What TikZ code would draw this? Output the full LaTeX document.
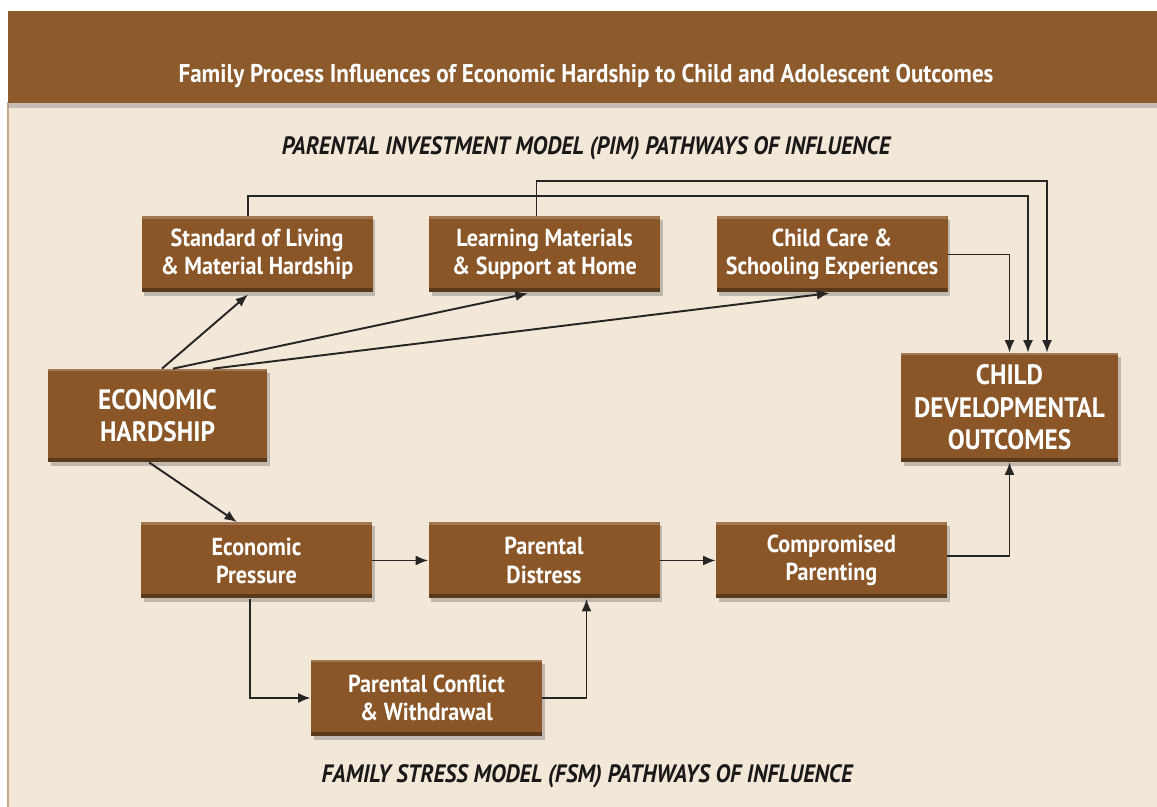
\documentclass[tikz,border=0pt]{standalone}
\usepackage{fontspec}
\setmainfont{PT Sans}
\newfontfamily\boxfont[FakeStretch=0.9]{PT Sans}
\usetikzlibrary{arrows.meta,positioning,shadows}
\definecolor{barbrown}{HTML}{8D5A2C}
\definecolor{boxbrown}{HTML}{8A5628}
\definecolor{paper}{HTML}{F3E7D7}
\definecolor{rim}{HTML}{C9A789}
\tikzset{>={Latex[width=2mm,length=2.5mm]}}
\tikzset{box/.style={shape=rectangle, fill=boxbrown, text=white, align=center,
    minimum width=4.62cm, minimum height=1.52cm, inner sep=1mm,
    font=\boxfont\bfseries\fontsize{14}{16}\selectfont,
    drop shadow={shadow xshift=1.5pt, shadow yshift=-2pt, opacity=0.45},
    path picture={\fill[boxbrown!65!black] (path picture bounding box.south west)
        rectangle ([yshift=2.5pt]path picture bounding box.south east);
      \fill[boxbrown!80!white] (path picture bounding box.north west)
        rectangle ([yshift=-1.2pt]path picture bounding box.north east);}}}
\tikzset{bigbox/.style={box, font=\boxfont\bfseries\fontsize{16}{18.5}\selectfont}}
\tikzset{link/.style={->, draw=black!85, line width=1.1pt}}
\tikzset{heading/.style={font=\boxfont\bfseries\itshape\fontsize{14.3}{16}\selectfont,
    text=black!90}}

\begin{document}
\begin{tikzpicture}[node distance=5.75cm]
    \useasboundingbox (0,0) rectangle (23.14,16.14);
    % background and title bar
    \fill[paper] (0.16,0) rectangle (23.14,14.10);
    \draw[rim, line width=0.8pt] (0.16,0) -- (0.16,14.10);
    \fill[barbrown, drop shadow={shadow xshift=0pt, shadow yshift=-3pt, opacity=0.4}]
        (0.16,14.08) rectangle (23.14,15.92);
    \node[text=white, font=\boxfont\bfseries\fontsize{14.6}{16}\selectfont] (title)
        at (11.72,14.62) {Family Process Influences of Economic Hardship to Child and Adolescent Outcomes};
    \node[heading] (pim) at (11.72,13.18) {PARENTAL INVESTMENT MODEL (PIM) PATHWAYS OF INFLUENCE};
    \node[heading] (fsm) at (11.74,0.62) {FAMILY STRESS MODEL (FSM) PATHWAYS OF INFLUENCE};

    % investment row
    \node[box] (living) at (5.14,11.05)    {Standard of Living\\\& Material Hardship};
    \node[box] (learning) [right of=living]  {Learning Materials\\\& Support at Home};
    \node[box] (care) [right of=learning]    {Child Care \&\\Schooling Experiences};

    % hardship and outcomes
    \node[bigbox, minimum width=4.38cm, minimum height=1.86cm] (hardship) at (3.15,7.83) {ECONOMIC\\HARDSHIP};
    \node[bigbox, minimum width=4.34cm, minimum height=2.18cm] (outcomes) at (20.19,7.99) {CHILD\\DEVELOPMENTAL\\OUTCOMES};

    % stress row
    \node[box] (pressure) at (5.13,4.93)     {Economic\\Pressure};
    \node[box] (distress) [right of=pressure] {Parental\\Distress};
    \node[box] (parenting) [right of=distress] {Compromised\\Parenting};
    \node[box] (conflict) at (8.53,2.18)     {Parental Conflict\\\& Withdrawal};

    \draw[link, shorten >=1.5pt] ([xshift=0.09cm]hardship.north) -- ([xshift=-0.14cm]living.south);
    \draw[link, shorten >=1.5pt] ([xshift=0.31cm]hardship.north) -- ([xshift=-0.28cm]learning.south);
    \draw[link, shorten >=1.5pt] ([xshift=1.11cm]hardship.north) -- (care.south);
    \draw[link] ([xshift=-0.17cm]hardship.south) -- ([xshift=-0.39cm]pressure.north);
    \draw[link] ([xshift=-0.18cm]living.north) -- ++(0,0.4) -| ([xshift=0.37cm]outcomes.north);
    \draw[link] ([xshift=-0.16cm]learning.north) -- ++(0,0.7) -| ([xshift=0.75cm]outcomes.north);
    \draw[link] (care.east) -| (outcomes.north);
    \draw[link] (pressure) -- (distress);
    \draw[link] (distress) -- (parenting);
    \draw[link] ([xshift=-0.13cm]pressure.south) |- (conflict.west);
    \draw[link] (conflict.east) -| ([xshift=0.85cm]distress.south);
    \draw[link] ([yshift=0.09cm]parenting.east) -| (outcomes.south);
\end{tikzpicture}
\end{document}
